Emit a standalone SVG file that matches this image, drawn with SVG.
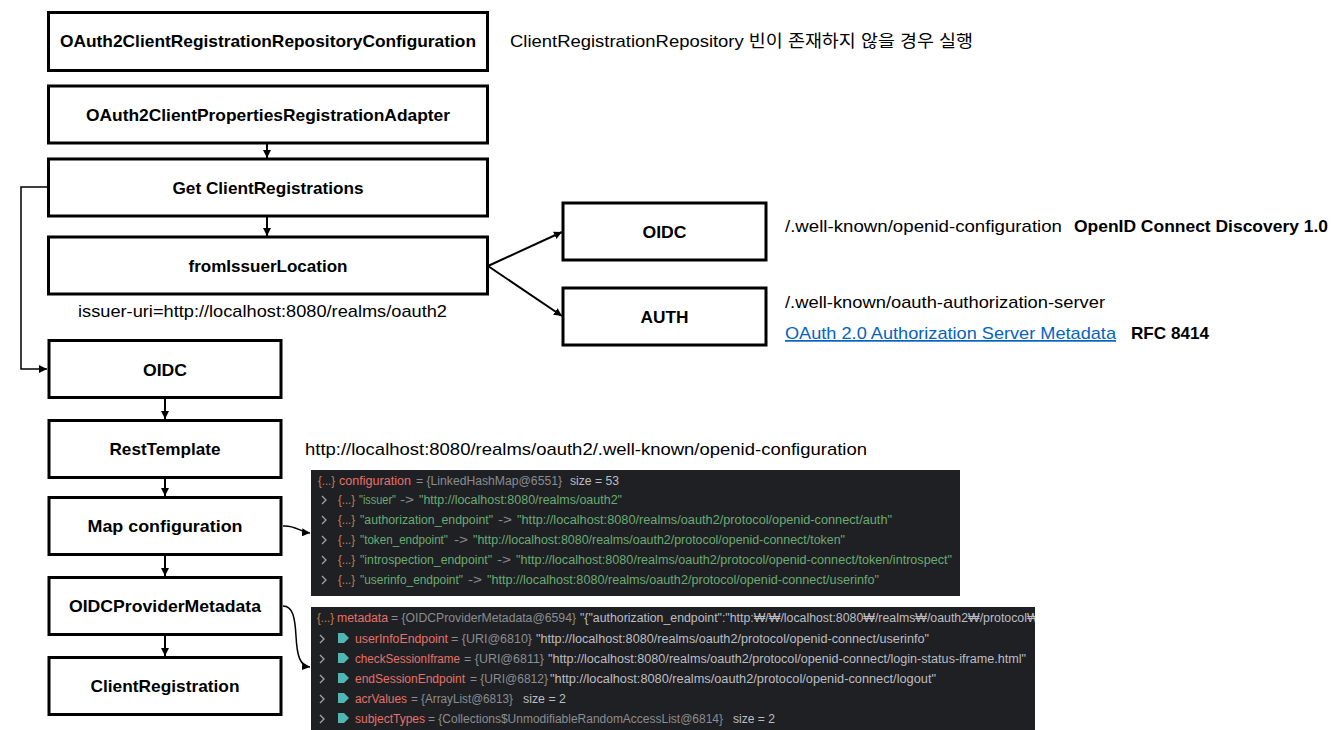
<svg xmlns="http://www.w3.org/2000/svg" width="1337" height="730" viewBox="0 0 1337 730">
<defs>
<style>
.box{fill:#fff;stroke:#000;stroke-width:3}
.lbl{font-family:"Liberation Sans","Noto Sans CJK KR",sans-serif;font-weight:bold;font-size:17px;fill:#000;text-anchor:middle}
.txt{font-family:"Liberation Sans","Noto Sans CJK KR",sans-serif;font-size:17px;fill:#000}
.bold{font-weight:bold}
.link{fill:#0563c1;text-decoration:underline}
.con{fill:none;stroke:#000;stroke-width:2}
.con1{fill:none;stroke:#000;stroke-width:1.5}
.pt{font-family:"Liberation Sans","Noto Sans",sans-serif;font-size:12px}
.br{fill:#c8804f}
.rd{fill:#e5716a}
.gy{fill:#8a8d92}
.lt{fill:#bcbec4}
.gr{fill:#6aab73}
.chev{fill:none;stroke:#a0a3a8;stroke-width:1.3}
.tag{fill:#4fb6b3}
</style>
<marker id="ah" viewBox="0 0 10 10" refX="10" refY="5" markerWidth="8" markerHeight="8" markerUnits="userSpaceOnUse" orient="auto">
<path d="M0,0 L10,5 L0,10 z" fill="#000"/>
</marker>
<clipPath id="cp2"><rect x="311" y="607" width="724" height="123"/></clipPath>
</defs>
<rect width="1337" height="730" fill="#fff"/>

<g id="connectors">
<path class="con" d="M267,144 V158" marker-end="url(#ah)"/>
<path class="con" d="M267,217 V236" marker-end="url(#ah)"/>
<path class="con1" d="M48,187 H21 V369 H47" marker-end="url(#ah)"/>
<path class="con" d="M488,266 L562,232" marker-end="url(#ah)"/>
<path class="con" d="M488,266 L562,316" marker-end="url(#ah)"/>
<path class="con" d="M165,399 V419" marker-end="url(#ah)"/>
<path class="con" d="M165,479 V496" marker-end="url(#ah)"/>
<path class="con" d="M165,556 V576" marker-end="url(#ah)"/>
<path class="con" d="M165,636 V656" marker-end="url(#ah)"/>
<path class="con1" d="M283,526 C296,525 299,532 310,533" marker-end="url(#ah)"/>
<path class="con1" d="M283,606 C293,606 295,618 296,636 C297,656 300,666 310,667" marker-end="url(#ah)"/>
</g>

<g id="n-repoconfig">
<rect class="box" x="48.5" y="12.5" width="439" height="58"/>
<text class="lbl" x="268" y="47" textLength="416" lengthAdjust="spacingAndGlyphs">OAuth2ClientRegistrationRepositoryConfiguration</text>
</g>
<g id="n-adapter">
<rect class="box" x="48.5" y="86" width="439" height="57"/>
<text class="lbl" x="268" y="121" textLength="364" lengthAdjust="spacingAndGlyphs">OAuth2ClientPropertiesRegistrationAdapter</text>
</g>
<g id="n-getreg">
<rect class="box" x="48.5" y="159" width="439" height="57"/>
<text class="lbl" x="268" y="194" textLength="191" lengthAdjust="spacingAndGlyphs">Get ClientRegistrations</text>
</g>
<g id="n-fromissuer">
<rect class="box" x="48.5" y="237" width="439" height="57"/>
<text class="lbl" x="268" y="272" textLength="159" lengthAdjust="spacingAndGlyphs">fromIssuerLocation</text>
</g>
<g id="n-oidc-right">
<rect class="box" x="563" y="203" width="203" height="57"/>
<text class="lbl" x="664.5" y="238" textLength="44" lengthAdjust="spacingAndGlyphs">OIDC</text>
</g>
<g id="n-auth">
<rect class="box" x="563" y="288" width="203" height="57"/>
<text class="lbl" x="664.5" y="323" textLength="48" lengthAdjust="spacingAndGlyphs">AUTH</text>
</g>
<g id="n-oidc-left">
<rect class="box" x="49" y="340.5" width="232" height="57"/>
<text class="lbl" x="165" y="376" textLength="44" lengthAdjust="spacingAndGlyphs">OIDC</text>
</g>
<g id="n-resttemplate">
<rect class="box" x="49" y="420.5" width="232" height="57"/>
<text class="lbl" x="165" y="455" textLength="111" lengthAdjust="spacingAndGlyphs">RestTemplate</text>
</g>
<g id="n-mapconfig">
<rect class="box" x="49" y="497.5" width="232" height="57"/>
<text class="lbl" x="165" y="532" textLength="155" lengthAdjust="spacingAndGlyphs">Map configuration</text>
</g>
<g id="n-providermeta">
<rect class="box" x="49" y="577.5" width="232" height="57"/>
<text class="lbl" x="165" y="612" textLength="192" lengthAdjust="spacingAndGlyphs">OIDCProviderMetadata</text>
</g>
<g id="n-clientreg">
<rect class="box" x="49" y="657.5" width="232" height="57"/>
<text class="lbl" x="165" y="692" textLength="149" lengthAdjust="spacingAndGlyphs">ClientRegistration</text>
</g>

<g id="annotations">
<text class="txt" x="510" y="47" textLength="463" lengthAdjust="spacingAndGlyphs">ClientRegistrationRepository 빈이 존재하지 않을 경우 실행</text>
<text class="txt" x="785" y="232" textLength="277" lengthAdjust="spacingAndGlyphs">/.well-known/openid-configuration</text>
<text class="txt bold" x="1074" y="232" textLength="254" lengthAdjust="spacingAndGlyphs">OpenID Connect Discovery 1.0</text>
<text class="txt" x="785" y="308" textLength="320" lengthAdjust="spacingAndGlyphs">/.well-known/oauth-authorization-server</text>
<text class="txt link" x="785" y="339" textLength="331" lengthAdjust="spacingAndGlyphs">OAuth 2.0 Authorization Server Metadata</text>
<text class="txt bold" x="1131" y="339" textLength="78" lengthAdjust="spacingAndGlyphs">RFC 8414</text>
<text class="txt" x="78" y="317" textLength="369" lengthAdjust="spacingAndGlyphs">issuer-uri=http://localhost:8080/realms/oauth2</text>
<text class="txt" x="305" y="455" textLength="562" lengthAdjust="spacingAndGlyphs">http://localhost:8080/realms/oauth2/.well-known/openid-configuration</text>
</g>

<g id="panel-configuration">
<rect x="311" y="470" width="649" height="126" fill="#1f2023"/>
<g class="pt">
<text class="br" x="318" y="485" textLength="17" lengthAdjust="spacingAndGlyphs">{...}</text>
<text class="rd" x="339" y="485" textLength="72" lengthAdjust="spacingAndGlyphs">configuration</text>
<text class="gy" x="416" y="485" textLength="146" lengthAdjust="spacingAndGlyphs">= {LinkedHashMap@6551}</text>
<text class="lt" x="570" y="485" textLength="49" lengthAdjust="spacingAndGlyphs">size = 53</text>

<polyline class="chev" points="322,496 326,500 322,504"/>
<text class="br" x="338" y="504" textLength="17" lengthAdjust="spacingAndGlyphs">{...}</text>
<text class="gr" x="359" y="504" textLength="37" lengthAdjust="spacingAndGlyphs">"issuer"</text>
<text class="gy" x="400" y="504" textLength="14" lengthAdjust="spacingAndGlyphs">-&gt;</text>
<text class="gr" x="419" y="504" textLength="203" lengthAdjust="spacingAndGlyphs">"http://localhost:8080/realms/oauth2"</text>

<polyline class="chev" points="322,516 326,520 322,524"/>
<text class="br" x="338" y="524" textLength="17" lengthAdjust="spacingAndGlyphs">{...}</text>
<text class="gr" x="360" y="524" textLength="133" lengthAdjust="spacingAndGlyphs">"authorization_endpoint"</text>
<text class="gy" x="498" y="524" textLength="14" lengthAdjust="spacingAndGlyphs">-&gt;</text>
<text class="gr" x="517" y="524" textLength="375" lengthAdjust="spacingAndGlyphs">"http://localhost:8080/realms/oauth2/protocol/openid-connect/auth"</text>

<polyline class="chev" points="322,536 326,540 322,544"/>
<text class="br" x="338" y="544" textLength="17" lengthAdjust="spacingAndGlyphs">{...}</text>
<text class="gr" x="360" y="544" textLength="88" lengthAdjust="spacingAndGlyphs">"token_endpoint"</text>
<text class="gy" x="454" y="544" textLength="14" lengthAdjust="spacingAndGlyphs">-&gt;</text>
<text class="gr" x="473" y="544" textLength="372" lengthAdjust="spacingAndGlyphs">"http://localhost:8080/realms/oauth2/protocol/openid-connect/token"</text>

<polyline class="chev" points="322,556 326,560 322,564"/>
<text class="br" x="338" y="564" textLength="17" lengthAdjust="spacingAndGlyphs">{...}</text>
<text class="gr" x="360" y="564" textLength="132" lengthAdjust="spacingAndGlyphs">"introspection_endpoint"</text>
<text class="gy" x="497" y="564" textLength="14" lengthAdjust="spacingAndGlyphs">-&gt;</text>
<text class="gr" x="516" y="564" textLength="436" lengthAdjust="spacingAndGlyphs">"http://localhost:8080/realms/oauth2/protocol/openid-connect/token/introspect"</text>

<polyline class="chev" points="322,576 326,580 322,584"/>
<text class="br" x="338" y="584" textLength="17" lengthAdjust="spacingAndGlyphs">{...}</text>
<text class="gr" x="360" y="584" textLength="103" lengthAdjust="spacingAndGlyphs">"userinfo_endpoint"</text>
<text class="gy" x="468" y="584" textLength="14" lengthAdjust="spacingAndGlyphs">-&gt;</text>
<text class="gr" x="487" y="584" textLength="392" lengthAdjust="spacingAndGlyphs">"http://localhost:8080/realms/oauth2/protocol/openid-connect/userinfo"</text>
</g>
</g>

<g id="panel-metadata">
<rect x="311" y="607" width="724" height="123" fill="#1f2023"/>
<g class="pt" clip-path="url(#cp2)">
<text class="br" x="317" y="622" textLength="17" lengthAdjust="spacingAndGlyphs">{...}</text>
<text class="rd" x="337" y="622" textLength="51" lengthAdjust="spacingAndGlyphs">metadata</text>
<text class="gy" x="391" y="622" textLength="185" lengthAdjust="spacingAndGlyphs">= {OIDCProviderMetadata@6594}</text>
<text class="lt" x="580" y="622" textLength="462" lengthAdjust="spacingAndGlyphs">"{"authorization_endpoint":"http:₩/₩/localhost:8080₩/realms₩/oauth2₩/protocol₩/</text>

<polyline class="chev" points="320,635 324,639 320,643"/>
<path class="tag" d="M338,633 h6 l5,5 l-5,5 h-6 z"/>
<text class="rd" x="355" y="643" textLength="93" lengthAdjust="spacingAndGlyphs">userInfoEndpoint</text>
<text class="gy" x="451" y="643" textLength="81" lengthAdjust="spacingAndGlyphs">= {URI@6810}</text>
<text class="lt" x="536" y="643" textLength="393" lengthAdjust="spacingAndGlyphs">"http://localhost:8080/realms/oauth2/protocol/openid-connect/userinfo"</text>

<polyline class="chev" points="320,655 324,659 320,663"/>
<path class="tag" d="M338,653 h6 l5,5 l-5,5 h-6 z"/>
<text class="rd" x="355" y="663" textLength="105" lengthAdjust="spacingAndGlyphs">checkSessionIframe</text>
<text class="gy" x="464" y="663" textLength="80" lengthAdjust="spacingAndGlyphs">= {URI@6811}</text>
<text class="lt" x="548" y="663" textLength="478" lengthAdjust="spacingAndGlyphs">"http://localhost:8080/realms/oauth2/protocol/openid-connect/login-status-iframe.html"</text>

<polyline class="chev" points="320,675 324,679 320,683"/>
<path class="tag" d="M338,673 h6 l5,5 l-5,5 h-6 z"/>
<text class="rd" x="355" y="683" textLength="110" lengthAdjust="spacingAndGlyphs">endSessionEndpoint</text>
<text class="gy" x="470" y="683" textLength="78" lengthAdjust="spacingAndGlyphs">= {URI@6812}</text>
<text class="lt" x="550" y="683" textLength="386" lengthAdjust="spacingAndGlyphs">"http://localhost:8080/realms/oauth2/protocol/openid-connect/logout"</text>

<polyline class="chev" points="320,695 324,699 320,703"/>
<path class="tag" d="M338,693 h6 l5,5 l-5,5 h-6 z"/>
<text class="rd" x="355" y="703" textLength="52" lengthAdjust="spacingAndGlyphs">acrValues</text>
<text class="gy" x="411" y="703" textLength="102" lengthAdjust="spacingAndGlyphs">= {ArrayList@6813}</text>
<text class="lt" x="523" y="703" textLength="43" lengthAdjust="spacingAndGlyphs">size = 2</text>

<polyline class="chev" points="320,715 324,719 320,723"/>
<path class="tag" d="M338,713 h6 l5,5 l-5,5 h-6 z"/>
<text class="rd" x="355" y="723" textLength="70" lengthAdjust="spacingAndGlyphs">subjectTypes</text>
<text class="gy" x="428" y="723" textLength="295" lengthAdjust="spacingAndGlyphs">= {Collections$UnmodifiableRandomAccessList@6814}</text>
<text class="lt" x="733" y="723" textLength="42" lengthAdjust="spacingAndGlyphs">size = 2</text>
</g>
</g>
</svg>
